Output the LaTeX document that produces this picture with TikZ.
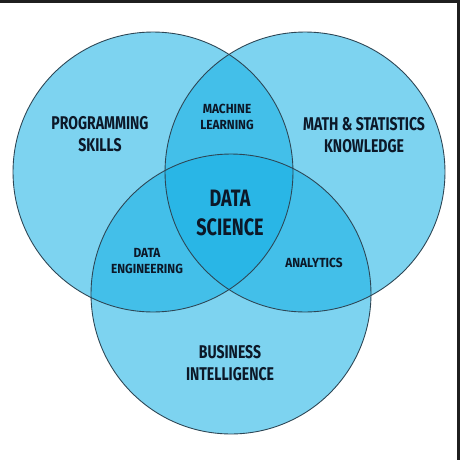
\documentclass[tikz,border=0pt]{standalone}
\usepackage{fontspec}
\newfontfamily\vennfont{Fira Sans}[FakeStretch=0.76]
\newfontfamily\vennsmallfont{Fira Sans}[FakeStretch=0.9]
\usepackage{tikz}
\usetikzlibrary{positioning}
\definecolor{vennblue}{RGB}{20,176,228}
\definecolor{vennline}{RGB}{45,70,85}
\definecolor{venntext}{RGB}{12,24,40}

\begin{document}
\begin{tikzpicture}[
    x=0.02cm, y=-0.02cm,
    vennfill/.style={
        fill=vennblue,
        fill opacity=0.55
    },
    vennedge/.style={
        draw=vennline,
        line width=0.5pt
    },
    mylabel/.style={
        text=venntext,
        align=center,
        inner sep=0pt,
        font=\vennfont\bfseries\fontsize{10.5}{12.5}\selectfont
    },
    smalllabel/.style={
        mylabel,
        font=\vennsmallfont\bfseries\fontsize{7.5}{9.5}\selectfont
    },
    biglabel/.style={
        mylabel,
        font=\vennfont\bfseries\fontsize{13.5}{16.5}\selectfont
    },
    ]

    \useasboundingbox (0,0) rectangle (460,460);
    \fill[white] (0,0) rectangle (460,460);

    \coordinate (prog) at (153,172);
    \coordinate (math) at (305,172);
    \coordinate (bus) at (231,294);

    % circles
    \fill[vennfill] (prog) circle[radius=2.8cm];
    \fill[vennfill] (math) circle[radius=2.8cm];
    \fill[vennfill] (bus) circle[radius=2.8cm];
    \draw[vennedge] (prog) circle[radius=2.8cm];
    \draw[vennedge] (math) circle[radius=2.8cm];
    \draw[vennedge] (bus) circle[radius=2.8cm];

    % labels
    \node[mylabel] (progskills) at (100,134) {PROGRAMMING\\SKILLS};
    \node[mylabel] (mathknow) at (364,135) {MATH \& STATISTICS\\KNOWLEDGE};
    \node[mylabel] (busint) at (230,363) {BUSINESS\\INTELLIGENCE};
    \node[smalllabel] (ml) at (227,117) {MACHINE\\LEARNING};
    \node[smalllabel] (de) at (147,261) {DATA\\ENGINEERING};
    \node[smalllabel] (an) at (314,263) {ANALYTICS};
    \node[biglabel] (ds) at (230,213) {DATA\\SCIENCE};

    % frame
    \fill[black!88] (0,0) rectangle (460,3);
    \fill[black!88] (457,0) rectangle (460,460);
\end{tikzpicture}
\end{document}
